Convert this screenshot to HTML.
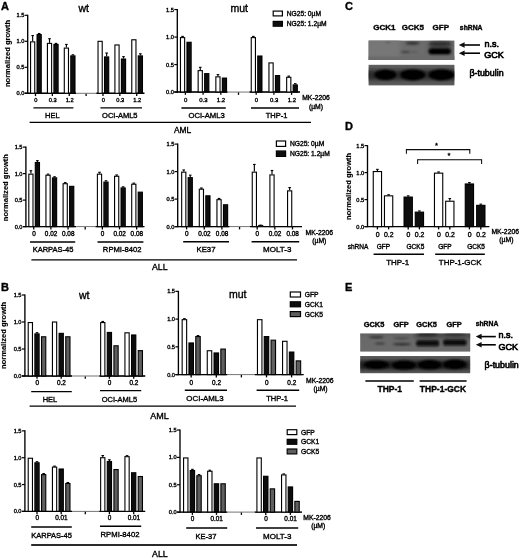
<!DOCTYPE html>
<html lang="en"><head><meta charset="utf-8"><title>Figure</title>
<style>html,body{margin:0;padding:0;background:#fff}svg{display:block}</style></head>
<body>
<svg width="520" height="558" viewBox="0 0 520 558" font-family='"Liberation Sans", sans-serif' shape-rendering="geometricPrecision">
<defs>
<filter id="soft" x="-5%" y="-5%" width="110%" height="110%"><feGaussianBlur stdDeviation="0.4"/></filter>
<filter id="b1" x="-30%" y="-60%" width="160%" height="220%"><feGaussianBlur stdDeviation="1.3"/></filter>
<filter id="b2" x="-30%" y="-60%" width="160%" height="220%"><feGaussianBlur stdDeviation="0.9"/></filter>
<filter id="b3" x="-30%" y="-60%" width="160%" height="220%"><feGaussianBlur stdDeviation="2.0"/></filter>
<clipPath id="cC1"><rect x="368.6" y="40.6" width="85.8" height="19.4"/></clipPath>
<clipPath id="cC2"><rect x="368.6" y="64.8" width="85.8" height="20.6"/></clipPath>
<clipPath id="cE1"><rect x="360.2" y="333.6" width="110" height="18.0"/></clipPath>
<clipPath id="cE2"><rect x="360.2" y="356.0" width="110" height="17.2"/></clipPath>
</defs>
<rect x="0" y="0" width="520" height="558" fill="#fff"/>
<g filter="url(#soft)">
<text x="1.00" y="9.70" font-size="11" text-anchor="start" font-weight="bold" fill="#050505" stroke="#050505" stroke-width="0.36">A</text>
<text x="1.00" y="291.10" font-size="11" text-anchor="start" font-weight="bold" fill="#050505" stroke="#050505" stroke-width="0.36">B</text>
<text x="345.00" y="9.80" font-size="11" text-anchor="start" font-weight="bold" fill="#050505" stroke="#050505" stroke-width="0.36">C</text>
<text x="345.00" y="130.20" font-size="11" text-anchor="start" font-weight="bold" fill="#050505" stroke="#050505" stroke-width="0.36">D</text>
<text x="345.00" y="290.80" font-size="11" text-anchor="start" font-weight="bold" fill="#050505" stroke="#050505" stroke-width="0.36">E</text>
<text x="83.70" y="12.40" font-size="10.5" text-anchor="middle" fill="#050505" stroke="#050505" stroke-width="0.36">wt</text>
<text x="9.60" y="53.50" font-size="7.55" text-anchor="middle" font-weight="bold" transform="rotate(-90 9.6 53.5)" fill="#050505" stroke="#050505" stroke-width="0.15">normalized growth</text>
<line x1="27.70" y1="14.80" x2="27.70" y2="93.90" stroke="#050505" stroke-width="1.35"/>
<line x1="24.70" y1="93.30" x2="27.70" y2="93.30" stroke="#050505" stroke-width="1.2"/>
<text x="24.30" y="95.30" font-size="5.65" text-anchor="end" fill="#050505" stroke="#050505" stroke-width="0.36">0.0</text>
<line x1="24.70" y1="67.30" x2="27.70" y2="67.30" stroke="#050505" stroke-width="1.2"/>
<text x="24.30" y="69.30" font-size="5.65" text-anchor="end" fill="#050505" stroke="#050505" stroke-width="0.36">0.5</text>
<line x1="24.70" y1="41.30" x2="27.70" y2="41.30" stroke="#050505" stroke-width="1.2"/>
<text x="24.30" y="43.30" font-size="5.65" text-anchor="end" fill="#050505" stroke="#050505" stroke-width="0.36">1.0</text>
<line x1="24.70" y1="15.30" x2="27.70" y2="15.30" stroke="#050505" stroke-width="1.2"/>
<text x="24.30" y="17.30" font-size="5.65" text-anchor="end" fill="#050505" stroke="#050505" stroke-width="0.36">1.5</text>
<line x1="24.70" y1="93.30" x2="76.00" y2="93.30" stroke="#050505" stroke-width="1.4"/>
<line x1="32.65" y1="41.30" x2="32.65" y2="35.58" stroke="#050505" stroke-width="1.15"/>
<line x1="31.35" y1="35.58" x2="33.95" y2="35.58" stroke="#050505" stroke-width="1.1"/>
<rect x="30.56" y="41.86" width="4.18" height="51.44" fill="#fff" stroke="#050505" stroke-width="1.12"/>
<line x1="39.15" y1="34.02" x2="39.15" y2="33.50" stroke="#050505" stroke-width="1.15"/>
<line x1="37.85" y1="33.50" x2="40.45" y2="33.50" stroke="#050505" stroke-width="1.1"/>
<rect x="37.06" y="34.58" width="4.18" height="58.72" fill="#0a0a0a" stroke="#050505" stroke-width="1.12"/>
<line x1="35.50" y1="93.70" x2="35.50" y2="96.10" stroke="#050505" stroke-width="1.3"/>
<text x="35.90" y="101.90" font-size="5.7" text-anchor="middle" fill="#050505" stroke="#050505" stroke-width="0.36">0</text>
<line x1="49.52" y1="42.86" x2="49.52" y2="38.70" stroke="#050505" stroke-width="1.15"/>
<line x1="48.22" y1="38.70" x2="50.82" y2="38.70" stroke="#050505" stroke-width="1.1"/>
<rect x="47.43" y="43.42" width="4.18" height="49.88" fill="#fff" stroke="#050505" stroke-width="1.12"/>
<line x1="56.02" y1="43.90" x2="56.02" y2="43.38" stroke="#050505" stroke-width="1.15"/>
<line x1="54.72" y1="43.38" x2="57.32" y2="43.38" stroke="#050505" stroke-width="1.1"/>
<rect x="53.93" y="44.46" width="4.18" height="48.84" fill="#0a0a0a" stroke="#050505" stroke-width="1.12"/>
<line x1="52.37" y1="93.70" x2="52.37" y2="96.10" stroke="#050505" stroke-width="1.3"/>
<text x="52.77" y="101.90" font-size="5.7" text-anchor="middle" fill="#050505" stroke="#050505" stroke-width="0.36">0.3</text>
<line x1="66.39" y1="47.54" x2="66.39" y2="44.42" stroke="#050505" stroke-width="1.15"/>
<line x1="65.09" y1="44.42" x2="67.69" y2="44.42" stroke="#050505" stroke-width="1.1"/>
<rect x="64.30" y="48.10" width="4.18" height="45.20" fill="#fff" stroke="#050505" stroke-width="1.12"/>
<line x1="72.89" y1="55.34" x2="72.89" y2="54.82" stroke="#050505" stroke-width="1.15"/>
<line x1="71.59" y1="54.82" x2="74.19" y2="54.82" stroke="#050505" stroke-width="1.1"/>
<rect x="70.80" y="55.90" width="4.18" height="37.40" fill="#0a0a0a" stroke="#050505" stroke-width="1.12"/>
<line x1="69.24" y1="93.70" x2="69.24" y2="96.10" stroke="#050505" stroke-width="1.3"/>
<text x="69.64" y="101.90" font-size="5.7" text-anchor="middle" fill="#050505" stroke="#050505" stroke-width="0.36">1.2</text>
<line x1="86.11" y1="93.70" x2="86.11" y2="96.10" stroke="#050505" stroke-width="1.3"/>
<line x1="96.40" y1="93.30" x2="144.40" y2="93.30" stroke="#050505" stroke-width="1.4"/>
<line x1="27.70" y1="93.30" x2="144.40" y2="93.30" stroke="#050505" stroke-width="0.55"/>
<rect x="98.04" y="41.34" width="4.18" height="51.96" fill="#fff" stroke="#050505" stroke-width="1.12"/>
<line x1="106.63" y1="56.38" x2="106.63" y2="53.00" stroke="#050505" stroke-width="1.15"/>
<line x1="105.33" y1="53.00" x2="107.93" y2="53.00" stroke="#050505" stroke-width="1.1"/>
<rect x="104.54" y="56.94" width="4.18" height="36.36" fill="#0a0a0a" stroke="#050505" stroke-width="1.12"/>
<line x1="102.98" y1="93.70" x2="102.98" y2="96.10" stroke="#050505" stroke-width="1.3"/>
<text x="103.38" y="101.90" font-size="5.7" text-anchor="middle" fill="#050505" stroke="#050505" stroke-width="0.36">0</text>
<rect x="114.91" y="44.98" width="4.18" height="48.32" fill="#fff" stroke="#050505" stroke-width="1.12"/>
<line x1="123.50" y1="58.46" x2="123.50" y2="56.64" stroke="#050505" stroke-width="1.15"/>
<line x1="122.20" y1="56.64" x2="124.80" y2="56.64" stroke="#050505" stroke-width="1.1"/>
<rect x="121.41" y="59.02" width="4.18" height="34.28" fill="#0a0a0a" stroke="#050505" stroke-width="1.12"/>
<line x1="119.85" y1="93.70" x2="119.85" y2="96.10" stroke="#050505" stroke-width="1.3"/>
<text x="120.25" y="101.90" font-size="5.7" text-anchor="middle" fill="#050505" stroke="#050505" stroke-width="0.36">0.3</text>
<rect x="131.78" y="39.78" width="4.18" height="53.52" fill="#fff" stroke="#050505" stroke-width="1.12"/>
<line x1="140.37" y1="55.34" x2="140.37" y2="53.78" stroke="#050505" stroke-width="1.15"/>
<line x1="139.07" y1="53.78" x2="141.67" y2="53.78" stroke="#050505" stroke-width="1.1"/>
<rect x="138.28" y="55.90" width="4.18" height="37.40" fill="#0a0a0a" stroke="#050505" stroke-width="1.12"/>
<line x1="136.72" y1="93.70" x2="136.72" y2="96.10" stroke="#050505" stroke-width="1.3"/>
<text x="137.12" y="101.90" font-size="5.7" text-anchor="middle" fill="#050505" stroke="#050505" stroke-width="0.36">1.2</text>
<line x1="33.40" y1="107.80" x2="73.40" y2="107.80" stroke="#050505" stroke-width="1.3"/>
<line x1="100.40" y1="107.80" x2="142.00" y2="107.80" stroke="#050505" stroke-width="1.3"/>
<text x="52.40" y="118.30" font-size="7.5" text-anchor="middle" fill="#050505" stroke="#050505" stroke-width="0.36">HEL</text>
<text x="119.80" y="118.30" font-size="7.5" text-anchor="middle" fill="#050505" stroke="#050505" stroke-width="0.36">OCI-AML5</text>
<text x="239.20" y="11.70" font-size="10.5" text-anchor="middle" fill="#050505" stroke="#050505" stroke-width="0.36">mut</text>
<line x1="177.30" y1="9.05" x2="177.30" y2="92.65" stroke="#050505" stroke-width="1.35"/>
<line x1="174.30" y1="92.05" x2="177.30" y2="92.05" stroke="#050505" stroke-width="1.2"/>
<text x="173.90" y="94.05" font-size="5.65" text-anchor="end" fill="#050505" stroke="#050505" stroke-width="0.36">0.0</text>
<line x1="174.30" y1="64.55" x2="177.30" y2="64.55" stroke="#050505" stroke-width="1.2"/>
<text x="173.90" y="66.55" font-size="5.65" text-anchor="end" fill="#050505" stroke="#050505" stroke-width="0.36">0.5</text>
<line x1="174.30" y1="37.05" x2="177.30" y2="37.05" stroke="#050505" stroke-width="1.2"/>
<text x="173.90" y="39.05" font-size="5.65" text-anchor="end" fill="#050505" stroke="#050505" stroke-width="0.36">1.0</text>
<line x1="174.30" y1="9.55" x2="177.30" y2="9.55" stroke="#050505" stroke-width="1.2"/>
<text x="173.90" y="11.55" font-size="5.65" text-anchor="end" fill="#050505" stroke="#050505" stroke-width="0.36">1.5</text>
<line x1="174.30" y1="92.05" x2="227.40" y2="92.05" stroke="#050505" stroke-width="1.4"/>
<line x1="182.55" y1="37.05" x2="182.55" y2="36.39" stroke="#050505" stroke-width="1.15"/>
<line x1="181.25" y1="36.39" x2="183.85" y2="36.39" stroke="#050505" stroke-width="1.1"/>
<rect x="180.46" y="37.61" width="4.18" height="54.44" fill="#fff" stroke="#050505" stroke-width="1.12"/>
<rect x="186.96" y="42.28" width="4.18" height="49.77" fill="#0a0a0a" stroke="#050505" stroke-width="1.12"/>
<line x1="185.40" y1="92.45" x2="185.40" y2="94.85" stroke="#050505" stroke-width="1.3"/>
<text x="185.60" y="101.90" font-size="6.0" text-anchor="middle" fill="#050505" stroke="#050505" stroke-width="0.36">0</text>
<line x1="200.25" y1="70.05" x2="200.25" y2="67.30" stroke="#050505" stroke-width="1.15"/>
<line x1="198.95" y1="67.30" x2="201.55" y2="67.30" stroke="#050505" stroke-width="1.1"/>
<rect x="198.16" y="70.61" width="4.18" height="21.44" fill="#fff" stroke="#050505" stroke-width="1.12"/>
<rect x="204.66" y="73.64" width="4.18" height="18.41" fill="#0a0a0a" stroke="#050505" stroke-width="1.12"/>
<line x1="203.10" y1="92.45" x2="203.10" y2="94.85" stroke="#050505" stroke-width="1.3"/>
<text x="203.30" y="101.90" font-size="6.0" text-anchor="middle" fill="#050505" stroke="#050505" stroke-width="0.36">0.3</text>
<line x1="217.95" y1="76.27" x2="217.95" y2="74.61" stroke="#050505" stroke-width="1.15"/>
<line x1="216.65" y1="74.61" x2="219.25" y2="74.61" stroke="#050505" stroke-width="1.1"/>
<rect x="215.86" y="76.83" width="4.18" height="15.22" fill="#fff" stroke="#050505" stroke-width="1.12"/>
<rect x="222.36" y="78.09" width="4.18" height="13.96" fill="#0a0a0a" stroke="#050505" stroke-width="1.12"/>
<line x1="220.80" y1="92.45" x2="220.80" y2="94.85" stroke="#050505" stroke-width="1.3"/>
<text x="221.00" y="101.90" font-size="6.0" text-anchor="middle" fill="#050505" stroke="#050505" stroke-width="0.36">1.2</text>
<line x1="238.50" y1="92.45" x2="238.50" y2="94.85" stroke="#050505" stroke-width="1.3"/>
<line x1="249.60" y1="92.05" x2="300.00" y2="92.05" stroke="#050505" stroke-width="1.4"/>
<line x1="177.30" y1="92.05" x2="300.00" y2="92.05" stroke="#050505" stroke-width="0.55"/>
<line x1="253.35" y1="37.05" x2="253.35" y2="36.39" stroke="#050505" stroke-width="1.15"/>
<line x1="252.05" y1="36.39" x2="254.65" y2="36.39" stroke="#050505" stroke-width="1.1"/>
<rect x="251.26" y="37.61" width="4.18" height="54.44" fill="#fff" stroke="#050505" stroke-width="1.12"/>
<rect x="257.76" y="56.03" width="4.18" height="36.02" fill="#0a0a0a" stroke="#050505" stroke-width="1.12"/>
<line x1="256.20" y1="92.45" x2="256.20" y2="94.85" stroke="#050505" stroke-width="1.3"/>
<text x="256.40" y="101.90" font-size="6.0" text-anchor="middle" fill="#050505" stroke="#050505" stroke-width="0.36">0</text>
<rect x="268.96" y="62.91" width="4.18" height="29.14" fill="#fff" stroke="#050505" stroke-width="1.12"/>
<rect x="275.46" y="75.56" width="4.18" height="16.49" fill="#0a0a0a" stroke="#050505" stroke-width="1.12"/>
<line x1="273.90" y1="92.45" x2="273.90" y2="94.85" stroke="#050505" stroke-width="1.3"/>
<text x="274.10" y="101.90" font-size="6.0" text-anchor="middle" fill="#050505" stroke="#050505" stroke-width="0.36">0.3</text>
<line x1="288.75" y1="76.76" x2="288.75" y2="76.10" stroke="#050505" stroke-width="1.15"/>
<line x1="287.45" y1="76.10" x2="290.05" y2="76.10" stroke="#050505" stroke-width="1.1"/>
<rect x="286.66" y="77.32" width="4.18" height="14.73" fill="#fff" stroke="#050505" stroke-width="1.12"/>
<line x1="295.25" y1="84.35" x2="295.25" y2="83.69" stroke="#050505" stroke-width="1.15"/>
<line x1="293.95" y1="83.69" x2="296.55" y2="83.69" stroke="#050505" stroke-width="1.1"/>
<rect x="293.16" y="84.91" width="4.18" height="7.14" fill="#0a0a0a" stroke="#050505" stroke-width="1.12"/>
<line x1="291.60" y1="92.45" x2="291.60" y2="94.85" stroke="#050505" stroke-width="1.3"/>
<text x="291.80" y="101.90" font-size="6.0" text-anchor="middle" fill="#050505" stroke="#050505" stroke-width="0.36">1.2</text>
<line x1="181.40" y1="108.00" x2="225.80" y2="108.00" stroke="#050505" stroke-width="1.45"/>
<line x1="251.00" y1="108.00" x2="299.00" y2="108.00" stroke="#050505" stroke-width="1.45"/>
<text x="206.60" y="118.30" font-size="7.7" text-anchor="middle" fill="#050505" stroke="#050505" stroke-width="0.36">OCI-AML3</text>
<text x="276.60" y="118.30" font-size="7.5" text-anchor="middle" fill="#050505" stroke="#050505" stroke-width="0.36">THP-1</text>
<text x="316.00" y="100.20" font-size="6.8" text-anchor="middle" fill="#050505" stroke="#050505" stroke-width="0.36">MK-2206</text>
<text x="316.00" y="108.80" font-size="6.8" text-anchor="middle" fill="#050505" stroke="#050505" stroke-width="0.36">(µM)</text>
<rect x="273.20" y="11.10" width="9.20" height="4.80" fill="#fff" stroke="#050505" stroke-width="1.2"/>
<text x="286.70" y="15.90" font-size="6.7" text-anchor="start" fill="#050505" stroke="#050505" stroke-width="0.36">NG25: 0µM</text>
<rect x="273.20" y="21.40" width="9.20" height="4.80" fill="#0a0a0a" stroke="#050505" stroke-width="1.2"/>
<text x="286.70" y="26.20" font-size="6.7" text-anchor="start" fill="#050505" stroke="#050505" stroke-width="0.36">NG25: 1.2µM</text>
<line x1="29.60" y1="122.30" x2="311.00" y2="122.30" stroke="#050505" stroke-width="1.35"/>
<text x="182.50" y="133.00" font-size="8.4" text-anchor="middle" fill="#050505" stroke="#050505" stroke-width="0.36">AML</text>
<text x="8.40" y="187.60" font-size="7.55" text-anchor="middle" font-weight="bold" transform="rotate(-90 8.4 187.6)" fill="#050505" stroke="#050505" stroke-width="0.15">normalized growth</text>
<line x1="25.90" y1="146.60" x2="25.90" y2="227.20" stroke="#050505" stroke-width="1.35"/>
<line x1="22.90" y1="226.60" x2="25.90" y2="226.60" stroke="#050505" stroke-width="1.2"/>
<text x="22.50" y="228.60" font-size="5.65" text-anchor="end" fill="#050505" stroke="#050505" stroke-width="0.36">0.0</text>
<line x1="22.90" y1="200.10" x2="25.90" y2="200.10" stroke="#050505" stroke-width="1.2"/>
<text x="22.50" y="202.10" font-size="5.65" text-anchor="end" fill="#050505" stroke="#050505" stroke-width="0.36">0.5</text>
<line x1="22.90" y1="173.60" x2="25.90" y2="173.60" stroke="#050505" stroke-width="1.2"/>
<text x="22.50" y="175.60" font-size="5.65" text-anchor="end" fill="#050505" stroke="#050505" stroke-width="0.36">1.0</text>
<line x1="22.90" y1="147.10" x2="25.90" y2="147.10" stroke="#050505" stroke-width="1.2"/>
<text x="22.50" y="149.10" font-size="5.65" text-anchor="end" fill="#050505" stroke="#050505" stroke-width="0.36">1.5</text>
<line x1="22.90" y1="226.60" x2="76.00" y2="226.60" stroke="#050505" stroke-width="1.4"/>
<line x1="30.90" y1="173.60" x2="30.90" y2="170.69" stroke="#050505" stroke-width="1.15"/>
<line x1="29.60" y1="170.69" x2="32.20" y2="170.69" stroke="#050505" stroke-width="1.1"/>
<rect x="28.81" y="174.16" width="4.18" height="52.44" fill="#fff" stroke="#050505" stroke-width="1.12"/>
<line x1="37.40" y1="161.94" x2="37.40" y2="160.62" stroke="#050505" stroke-width="1.15"/>
<line x1="36.10" y1="160.62" x2="38.70" y2="160.62" stroke="#050505" stroke-width="1.1"/>
<rect x="35.31" y="162.50" width="4.18" height="64.10" fill="#0a0a0a" stroke="#050505" stroke-width="1.12"/>
<line x1="33.75" y1="227.00" x2="33.75" y2="229.40" stroke="#050505" stroke-width="1.3"/>
<text x="33.95" y="236.20" font-size="6.4" text-anchor="middle" fill="#050505" stroke="#050505" stroke-width="0.36">0</text>
<line x1="48.05" y1="174.66" x2="48.05" y2="174.13" stroke="#050505" stroke-width="1.15"/>
<line x1="46.75" y1="174.13" x2="49.35" y2="174.13" stroke="#050505" stroke-width="1.1"/>
<rect x="45.96" y="175.22" width="4.18" height="51.38" fill="#fff" stroke="#050505" stroke-width="1.12"/>
<line x1="54.55" y1="177.31" x2="54.55" y2="176.78" stroke="#050505" stroke-width="1.15"/>
<line x1="53.25" y1="176.78" x2="55.85" y2="176.78" stroke="#050505" stroke-width="1.1"/>
<rect x="52.46" y="177.87" width="4.18" height="48.73" fill="#0a0a0a" stroke="#050505" stroke-width="1.12"/>
<line x1="50.90" y1="227.00" x2="50.90" y2="229.40" stroke="#050505" stroke-width="1.3"/>
<text x="51.10" y="236.20" font-size="6.4" text-anchor="middle" fill="#050505" stroke="#050505" stroke-width="0.36">0.02</text>
<line x1="65.20" y1="183.14" x2="65.20" y2="182.61" stroke="#050505" stroke-width="1.15"/>
<line x1="63.90" y1="182.61" x2="66.50" y2="182.61" stroke="#050505" stroke-width="1.1"/>
<rect x="63.11" y="183.70" width="4.18" height="42.90" fill="#fff" stroke="#050505" stroke-width="1.12"/>
<rect x="69.61" y="186.35" width="4.18" height="40.25" fill="#0a0a0a" stroke="#050505" stroke-width="1.12"/>
<line x1="68.05" y1="227.00" x2="68.05" y2="229.40" stroke="#050505" stroke-width="1.3"/>
<text x="68.25" y="236.20" font-size="6.4" text-anchor="middle" fill="#050505" stroke="#050505" stroke-width="0.36">0.08</text>
<line x1="85.20" y1="227.00" x2="85.20" y2="229.40" stroke="#050505" stroke-width="1.3"/>
<line x1="95.60" y1="226.60" x2="144.40" y2="226.60" stroke="#050505" stroke-width="1.4"/>
<line x1="25.90" y1="226.60" x2="144.40" y2="226.60" stroke="#050505" stroke-width="0.55"/>
<line x1="99.50" y1="173.60" x2="99.50" y2="172.28" stroke="#050505" stroke-width="1.15"/>
<line x1="98.20" y1="172.28" x2="100.80" y2="172.28" stroke="#050505" stroke-width="1.1"/>
<rect x="97.41" y="174.16" width="4.18" height="52.44" fill="#fff" stroke="#050505" stroke-width="1.12"/>
<line x1="106.00" y1="181.55" x2="106.00" y2="180.75" stroke="#050505" stroke-width="1.15"/>
<line x1="104.70" y1="180.75" x2="107.30" y2="180.75" stroke="#050505" stroke-width="1.1"/>
<rect x="103.91" y="182.11" width="4.18" height="44.49" fill="#0a0a0a" stroke="#050505" stroke-width="1.12"/>
<line x1="102.35" y1="227.00" x2="102.35" y2="229.40" stroke="#050505" stroke-width="1.3"/>
<text x="102.55" y="236.20" font-size="6.4" text-anchor="middle" fill="#050505" stroke="#050505" stroke-width="0.36">0</text>
<line x1="116.65" y1="175.72" x2="116.65" y2="174.93" stroke="#050505" stroke-width="1.15"/>
<line x1="115.35" y1="174.93" x2="117.95" y2="174.93" stroke="#050505" stroke-width="1.1"/>
<rect x="114.56" y="176.28" width="4.18" height="50.32" fill="#fff" stroke="#050505" stroke-width="1.12"/>
<line x1="123.15" y1="187.38" x2="123.15" y2="186.85" stroke="#050505" stroke-width="1.15"/>
<line x1="121.85" y1="186.85" x2="124.45" y2="186.85" stroke="#050505" stroke-width="1.1"/>
<rect x="121.06" y="187.94" width="4.18" height="38.66" fill="#0a0a0a" stroke="#050505" stroke-width="1.12"/>
<line x1="119.50" y1="227.00" x2="119.50" y2="229.40" stroke="#050505" stroke-width="1.3"/>
<text x="119.70" y="236.20" font-size="6.4" text-anchor="middle" fill="#050505" stroke="#050505" stroke-width="0.36">0.02</text>
<line x1="133.80" y1="183.67" x2="133.80" y2="183.14" stroke="#050505" stroke-width="1.15"/>
<line x1="132.50" y1="183.14" x2="135.10" y2="183.14" stroke="#050505" stroke-width="1.1"/>
<rect x="131.71" y="184.23" width="4.18" height="42.37" fill="#fff" stroke="#050505" stroke-width="1.12"/>
<rect x="138.21" y="192.18" width="4.18" height="34.42" fill="#0a0a0a" stroke="#050505" stroke-width="1.12"/>
<line x1="136.65" y1="227.00" x2="136.65" y2="229.40" stroke="#050505" stroke-width="1.3"/>
<text x="136.85" y="236.20" font-size="6.4" text-anchor="middle" fill="#050505" stroke="#050505" stroke-width="0.36">0.08</text>
<line x1="30.00" y1="241.90" x2="75.20" y2="241.90" stroke="#050505" stroke-width="1.45"/>
<line x1="97.50" y1="241.90" x2="143.40" y2="241.90" stroke="#050505" stroke-width="1.45"/>
<text x="53.00" y="252.30" font-size="7.5" text-anchor="middle" fill="#050505" stroke="#050505" stroke-width="0.36">KARPAS-45</text>
<text x="122.20" y="252.30" font-size="7.65" text-anchor="middle" fill="#050505" stroke="#050505" stroke-width="0.36">RPMI-8402</text>
<line x1="177.70" y1="143.60" x2="177.70" y2="227.20" stroke="#050505" stroke-width="1.35"/>
<line x1="174.70" y1="226.60" x2="177.70" y2="226.60" stroke="#050505" stroke-width="1.2"/>
<text x="174.30" y="228.60" font-size="5.65" text-anchor="end" fill="#050505" stroke="#050505" stroke-width="0.36">0.0</text>
<line x1="174.70" y1="199.10" x2="177.70" y2="199.10" stroke="#050505" stroke-width="1.2"/>
<text x="174.30" y="201.10" font-size="5.65" text-anchor="end" fill="#050505" stroke="#050505" stroke-width="0.36">0.5</text>
<line x1="174.70" y1="171.60" x2="177.70" y2="171.60" stroke="#050505" stroke-width="1.2"/>
<text x="174.30" y="173.60" font-size="5.65" text-anchor="end" fill="#050505" stroke="#050505" stroke-width="0.36">1.0</text>
<line x1="174.70" y1="144.10" x2="177.70" y2="144.10" stroke="#050505" stroke-width="1.2"/>
<text x="174.30" y="146.10" font-size="5.65" text-anchor="end" fill="#050505" stroke="#050505" stroke-width="0.36">1.5</text>
<line x1="174.70" y1="226.60" x2="229.40" y2="226.60" stroke="#050505" stroke-width="1.4"/>
<line x1="183.75" y1="171.60" x2="183.75" y2="169.95" stroke="#050505" stroke-width="1.15"/>
<line x1="182.45" y1="169.95" x2="185.05" y2="169.95" stroke="#050505" stroke-width="1.1"/>
<rect x="181.66" y="172.16" width="4.18" height="54.44" fill="#fff" stroke="#050505" stroke-width="1.12"/>
<line x1="190.25" y1="177.10" x2="190.25" y2="175.17" stroke="#050505" stroke-width="1.15"/>
<line x1="188.95" y1="175.17" x2="191.55" y2="175.17" stroke="#050505" stroke-width="1.1"/>
<rect x="188.16" y="177.66" width="4.18" height="48.94" fill="#0a0a0a" stroke="#050505" stroke-width="1.12"/>
<line x1="186.60" y1="227.00" x2="186.60" y2="229.40" stroke="#050505" stroke-width="1.3"/>
<text x="186.80" y="236.20" font-size="6.4" text-anchor="middle" fill="#050505" stroke="#050505" stroke-width="0.36">0</text>
<line x1="201.40" y1="188.65" x2="201.40" y2="187.99" stroke="#050505" stroke-width="1.15"/>
<line x1="200.10" y1="187.99" x2="202.70" y2="187.99" stroke="#050505" stroke-width="1.1"/>
<rect x="199.31" y="189.21" width="4.18" height="37.39" fill="#fff" stroke="#050505" stroke-width="1.12"/>
<rect x="205.81" y="195.81" width="4.18" height="30.79" fill="#0a0a0a" stroke="#050505" stroke-width="1.12"/>
<line x1="204.25" y1="227.00" x2="204.25" y2="229.40" stroke="#050505" stroke-width="1.3"/>
<text x="204.45" y="236.20" font-size="6.4" text-anchor="middle" fill="#050505" stroke="#050505" stroke-width="0.36">0.02</text>
<line x1="219.05" y1="199.10" x2="219.05" y2="198.44" stroke="#050505" stroke-width="1.15"/>
<line x1="217.75" y1="198.44" x2="220.35" y2="198.44" stroke="#050505" stroke-width="1.1"/>
<rect x="216.96" y="199.66" width="4.18" height="26.94" fill="#fff" stroke="#050505" stroke-width="1.12"/>
<rect x="223.46" y="204.78" width="4.18" height="21.82" fill="#0a0a0a" stroke="#050505" stroke-width="1.12"/>
<line x1="221.90" y1="227.00" x2="221.90" y2="229.40" stroke="#050505" stroke-width="1.3"/>
<text x="222.10" y="236.20" font-size="6.4" text-anchor="middle" fill="#050505" stroke="#050505" stroke-width="0.36">0.08</text>
<line x1="239.55" y1="227.00" x2="239.55" y2="229.40" stroke="#050505" stroke-width="1.3"/>
<line x1="250.00" y1="226.60" x2="302.00" y2="226.60" stroke="#050505" stroke-width="1.4"/>
<line x1="177.70" y1="226.60" x2="302.00" y2="226.60" stroke="#050505" stroke-width="0.55"/>
<line x1="254.35" y1="171.60" x2="254.35" y2="164.45" stroke="#050505" stroke-width="1.15"/>
<line x1="253.05" y1="164.45" x2="255.65" y2="164.45" stroke="#050505" stroke-width="1.1"/>
<rect x="252.26" y="172.16" width="4.18" height="54.44" fill="#fff" stroke="#050505" stroke-width="1.12"/>
<rect x="258.76" y="227.16" width="4.18" height="-0.56" fill="#0a0a0a" stroke="#050505" stroke-width="1.12"/>
<line x1="257.20" y1="227.00" x2="257.20" y2="229.40" stroke="#050505" stroke-width="1.3"/>
<text x="257.40" y="236.20" font-size="6.4" text-anchor="middle" fill="#050505" stroke="#050505" stroke-width="0.36">0</text>
<line x1="272.00" y1="174.35" x2="272.00" y2="170.50" stroke="#050505" stroke-width="1.15"/>
<line x1="270.70" y1="170.50" x2="273.30" y2="170.50" stroke="#050505" stroke-width="1.1"/>
<rect x="269.91" y="174.91" width="4.18" height="51.69" fill="#fff" stroke="#050505" stroke-width="1.12"/>
<rect x="276.41" y="227.16" width="4.18" height="-0.56" fill="#0a0a0a" stroke="#050505" stroke-width="1.12"/>
<line x1="274.85" y1="227.00" x2="274.85" y2="229.40" stroke="#050505" stroke-width="1.3"/>
<text x="275.05" y="236.20" font-size="6.4" text-anchor="middle" fill="#050505" stroke="#050505" stroke-width="0.36">0.02</text>
<line x1="289.65" y1="190.30" x2="289.65" y2="187.55" stroke="#050505" stroke-width="1.15"/>
<line x1="288.35" y1="187.55" x2="290.95" y2="187.55" stroke="#050505" stroke-width="1.1"/>
<rect x="287.56" y="190.86" width="4.18" height="35.74" fill="#fff" stroke="#050505" stroke-width="1.12"/>
<rect x="294.06" y="227.16" width="4.18" height="-0.56" fill="#0a0a0a" stroke="#050505" stroke-width="1.12"/>
<line x1="292.50" y1="227.00" x2="292.50" y2="229.40" stroke="#050505" stroke-width="1.3"/>
<text x="292.70" y="236.20" font-size="6.4" text-anchor="middle" fill="#050505" stroke="#050505" stroke-width="0.36">0.08</text>
<path d="M257.60 226.60 a3.0 2.2 0 0 1 6.0 0 Z" fill="#0a0a0a"/>
<line x1="183.20" y1="241.70" x2="229.00" y2="241.70" stroke="#050505" stroke-width="1.45"/>
<line x1="251.60" y1="241.70" x2="299.20" y2="241.70" stroke="#050505" stroke-width="1.45"/>
<text x="206.00" y="252.30" font-size="7.8" text-anchor="middle" fill="#050505" stroke="#050505" stroke-width="0.36">KE37</text>
<text x="277.20" y="252.30" font-size="8.0" text-anchor="middle" fill="#050505" stroke="#050505" stroke-width="0.36">MOLT-3</text>
<text x="319.30" y="234.80" font-size="6.8" text-anchor="middle" fill="#050505" stroke="#050505" stroke-width="0.36">MK-2206</text>
<text x="319.30" y="243.40" font-size="6.8" text-anchor="middle" fill="#050505" stroke="#050505" stroke-width="0.36">(µM)</text>
<rect x="276.40" y="141.00" width="9.20" height="5.40" fill="#fff" stroke="#050505" stroke-width="1.2"/>
<text x="289.90" y="146.10" font-size="6.7" text-anchor="start" fill="#050505" stroke="#050505" stroke-width="0.36">NG25: 0µM</text>
<rect x="276.40" y="151.00" width="9.20" height="5.40" fill="#0a0a0a" stroke="#050505" stroke-width="1.2"/>
<text x="289.90" y="156.10" font-size="6.7" text-anchor="start" fill="#050505" stroke="#050505" stroke-width="0.36">NG25: 1.2µM</text>
<line x1="31.40" y1="259.80" x2="297.00" y2="259.80" stroke="#050505" stroke-width="1.35"/>
<text x="159.80" y="270.30" font-size="8.7" text-anchor="middle" fill="#050505" stroke="#050505" stroke-width="0.36">ALL</text>
<text x="84.20" y="299.40" font-size="10.5" text-anchor="middle" fill="#050505" stroke="#050505" stroke-width="0.36">wt</text>
<text x="6.50" y="335.40" font-size="7.55" text-anchor="middle" font-weight="bold" transform="rotate(-90 6.5 335.4)" fill="#050505" stroke="#050505" stroke-width="0.15">normalized growth</text>
<line x1="24.90" y1="294.50" x2="24.90" y2="376.60" stroke="#050505" stroke-width="1.35"/>
<line x1="21.90" y1="376.00" x2="24.90" y2="376.00" stroke="#050505" stroke-width="1.2"/>
<text x="21.50" y="378.00" font-size="5.65" text-anchor="end" fill="#050505" stroke="#050505" stroke-width="0.36">0.0</text>
<line x1="21.90" y1="349.00" x2="24.90" y2="349.00" stroke="#050505" stroke-width="1.2"/>
<text x="21.50" y="351.00" font-size="5.65" text-anchor="end" fill="#050505" stroke="#050505" stroke-width="0.36">0.5</text>
<line x1="21.90" y1="322.00" x2="24.90" y2="322.00" stroke="#050505" stroke-width="1.2"/>
<text x="21.50" y="324.00" font-size="5.65" text-anchor="end" fill="#050505" stroke="#050505" stroke-width="0.36">1.0</text>
<line x1="21.90" y1="295.00" x2="24.90" y2="295.00" stroke="#050505" stroke-width="1.2"/>
<text x="21.50" y="297.00" font-size="5.65" text-anchor="end" fill="#050505" stroke="#050505" stroke-width="0.36">1.5</text>
<line x1="21.90" y1="376.00" x2="72.00" y2="376.00" stroke="#050505" stroke-width="1.4"/>
<rect x="28.23" y="322.56" width="4.23" height="53.44" fill="#fff" stroke="#050505" stroke-width="1.12"/>
<line x1="37.00" y1="333.34" x2="37.00" y2="332.69" stroke="#050505" stroke-width="1.15"/>
<line x1="35.70" y1="332.69" x2="38.30" y2="332.69" stroke="#050505" stroke-width="1.1"/>
<rect x="34.89" y="333.90" width="4.23" height="42.10" fill="#0a0a0a" stroke="#050505" stroke-width="1.12"/>
<rect x="41.54" y="336.76" width="4.23" height="39.24" fill="#5e5e5e" stroke="#050505" stroke-width="1.12"/>
<line x1="37.00" y1="376.40" x2="37.00" y2="378.80" stroke="#050505" stroke-width="1.3"/>
<text x="37.20" y="385.00" font-size="6.4" text-anchor="middle" fill="#050505" stroke="#050505" stroke-width="0.36">0</text>
<rect x="52.44" y="322.02" width="4.23" height="53.98" fill="#fff" stroke="#050505" stroke-width="1.12"/>
<rect x="59.09" y="333.36" width="4.23" height="42.64" fill="#0a0a0a" stroke="#050505" stroke-width="1.12"/>
<rect x="65.74" y="336.76" width="4.23" height="39.24" fill="#5e5e5e" stroke="#050505" stroke-width="1.12"/>
<line x1="61.20" y1="376.40" x2="61.20" y2="378.80" stroke="#050505" stroke-width="1.3"/>
<text x="61.40" y="385.00" font-size="6.4" text-anchor="middle" fill="#050505" stroke="#050505" stroke-width="0.36">0.2</text>
<line x1="85.30" y1="376.40" x2="85.30" y2="378.80" stroke="#050505" stroke-width="1.3"/>
<line x1="99.40" y1="376.00" x2="145.20" y2="376.00" stroke="#050505" stroke-width="1.4"/>
<line x1="24.90" y1="376.00" x2="145.20" y2="376.00" stroke="#050505" stroke-width="0.55"/>
<line x1="102.75" y1="322.00" x2="102.75" y2="321.46" stroke="#050505" stroke-width="1.15"/>
<line x1="101.45" y1="321.46" x2="104.05" y2="321.46" stroke="#050505" stroke-width="1.1"/>
<rect x="100.64" y="322.56" width="4.23" height="53.44" fill="#fff" stroke="#050505" stroke-width="1.12"/>
<rect x="107.29" y="332.44" width="4.23" height="43.56" fill="#0a0a0a" stroke="#050505" stroke-width="1.12"/>
<rect x="113.94" y="345.78" width="4.23" height="30.22" fill="#5e5e5e" stroke="#050505" stroke-width="1.12"/>
<line x1="109.40" y1="376.40" x2="109.40" y2="378.80" stroke="#050505" stroke-width="1.3"/>
<text x="109.60" y="385.00" font-size="6.4" text-anchor="middle" fill="#050505" stroke="#050505" stroke-width="0.36">0</text>
<rect x="124.93" y="332.82" width="4.23" height="43.18" fill="#fff" stroke="#050505" stroke-width="1.12"/>
<rect x="131.58" y="334.98" width="4.23" height="41.02" fill="#0a0a0a" stroke="#050505" stroke-width="1.12"/>
<rect x="138.23" y="350.64" width="4.23" height="25.36" fill="#5e5e5e" stroke="#050505" stroke-width="1.12"/>
<line x1="133.70" y1="376.40" x2="133.70" y2="378.80" stroke="#050505" stroke-width="1.3"/>
<text x="133.90" y="385.00" font-size="6.4" text-anchor="middle" fill="#050505" stroke="#050505" stroke-width="0.36">0.2</text>
<line x1="31.20" y1="391.60" x2="71.80" y2="391.60" stroke="#050505" stroke-width="1.45"/>
<line x1="100.00" y1="390.60" x2="141.20" y2="390.60" stroke="#050505" stroke-width="1.45"/>
<text x="50.00" y="402.20" font-size="7.5" text-anchor="middle" fill="#050505" stroke="#050505" stroke-width="0.36">HEL</text>
<text x="119.40" y="401.50" font-size="7.5" text-anchor="middle" fill="#050505" stroke="#050505" stroke-width="0.36">OCI-AML5</text>
<text x="237.70" y="298.00" font-size="10.5" text-anchor="middle" fill="#050505" stroke="#050505" stroke-width="0.36">mut</text>
<line x1="178.40" y1="290.85" x2="178.40" y2="375.20" stroke="#050505" stroke-width="1.35"/>
<line x1="175.40" y1="374.60" x2="178.40" y2="374.60" stroke="#050505" stroke-width="1.2"/>
<text x="175.00" y="376.60" font-size="5.65" text-anchor="end" fill="#050505" stroke="#050505" stroke-width="0.36">0.0</text>
<line x1="175.40" y1="346.85" x2="178.40" y2="346.85" stroke="#050505" stroke-width="1.2"/>
<text x="175.00" y="348.85" font-size="5.65" text-anchor="end" fill="#050505" stroke="#050505" stroke-width="0.36">0.5</text>
<line x1="175.40" y1="319.10" x2="178.40" y2="319.10" stroke="#050505" stroke-width="1.2"/>
<text x="175.00" y="321.10" font-size="5.65" text-anchor="end" fill="#050505" stroke="#050505" stroke-width="0.36">1.0</text>
<line x1="175.40" y1="291.35" x2="178.40" y2="291.35" stroke="#050505" stroke-width="1.2"/>
<text x="175.00" y="293.35" font-size="5.65" text-anchor="end" fill="#050505" stroke="#050505" stroke-width="0.36">1.5</text>
<line x1="175.40" y1="374.60" x2="227.20" y2="374.60" stroke="#050505" stroke-width="1.4"/>
<line x1="184.40" y1="319.10" x2="184.40" y2="318.66" stroke="#050505" stroke-width="1.15"/>
<line x1="183.10" y1="318.66" x2="185.70" y2="318.66" stroke="#050505" stroke-width="1.1"/>
<rect x="182.16" y="319.66" width="4.48" height="54.94" fill="#fff" stroke="#050505" stroke-width="1.12"/>
<rect x="188.96" y="342.97" width="4.48" height="31.63" fill="#0a0a0a" stroke="#050505" stroke-width="1.12"/>
<line x1="198.00" y1="336.03" x2="198.00" y2="335.58" stroke="#050505" stroke-width="1.15"/>
<line x1="196.70" y1="335.58" x2="199.30" y2="335.58" stroke="#050505" stroke-width="1.1"/>
<rect x="195.76" y="336.59" width="4.48" height="38.01" fill="#5e5e5e" stroke="#050505" stroke-width="1.12"/>
<line x1="191.20" y1="375.00" x2="191.20" y2="377.40" stroke="#050505" stroke-width="1.3"/>
<text x="191.40" y="385.00" font-size="6.4" text-anchor="middle" fill="#050505" stroke="#050505" stroke-width="0.36">0</text>
<rect x="207.26" y="350.74" width="4.48" height="23.86" fill="#fff" stroke="#050505" stroke-width="1.12"/>
<rect x="214.06" y="352.96" width="4.48" height="21.64" fill="#0a0a0a" stroke="#050505" stroke-width="1.12"/>
<rect x="220.86" y="349.08" width="4.48" height="25.52" fill="#5e5e5e" stroke="#050505" stroke-width="1.12"/>
<line x1="216.30" y1="375.00" x2="216.30" y2="377.40" stroke="#050505" stroke-width="1.3"/>
<text x="216.50" y="385.00" font-size="6.4" text-anchor="middle" fill="#050505" stroke="#050505" stroke-width="0.36">0.2</text>
<line x1="241.40" y1="375.00" x2="241.40" y2="377.40" stroke="#050505" stroke-width="1.3"/>
<line x1="254.80" y1="374.60" x2="303.60" y2="374.60" stroke="#050505" stroke-width="1.4"/>
<line x1="178.40" y1="374.60" x2="303.60" y2="374.60" stroke="#050505" stroke-width="0.55"/>
<rect x="257.46" y="319.66" width="4.48" height="54.94" fill="#fff" stroke="#050505" stroke-width="1.12"/>
<rect x="264.26" y="336.59" width="4.48" height="38.01" fill="#0a0a0a" stroke="#050505" stroke-width="1.12"/>
<rect x="271.06" y="340.19" width="4.48" height="34.41" fill="#5e5e5e" stroke="#050505" stroke-width="1.12"/>
<line x1="266.50" y1="375.00" x2="266.50" y2="377.40" stroke="#050505" stroke-width="1.3"/>
<text x="266.70" y="385.00" font-size="6.4" text-anchor="middle" fill="#050505" stroke="#050505" stroke-width="0.36">0</text>
<rect x="282.56" y="341.31" width="4.48" height="33.30" fill="#fff" stroke="#050505" stroke-width="1.12"/>
<rect x="289.36" y="352.07" width="4.48" height="22.53" fill="#0a0a0a" stroke="#050505" stroke-width="1.12"/>
<rect x="296.16" y="360.90" width="4.48" height="13.70" fill="#5e5e5e" stroke="#050505" stroke-width="1.12"/>
<line x1="291.60" y1="375.00" x2="291.60" y2="377.40" stroke="#050505" stroke-width="1.3"/>
<text x="291.80" y="385.00" font-size="6.4" text-anchor="middle" fill="#050505" stroke="#050505" stroke-width="0.36">0.2</text>
<line x1="184.80" y1="390.20" x2="227.00" y2="390.20" stroke="#050505" stroke-width="1.45"/>
<line x1="256.60" y1="390.20" x2="299.20" y2="390.20" stroke="#050505" stroke-width="1.45"/>
<text x="205.00" y="401.20" font-size="7.9" text-anchor="middle" fill="#050505" stroke="#050505" stroke-width="0.36">OCI-AML3</text>
<text x="277.00" y="401.40" font-size="7.5" text-anchor="middle" fill="#050505" stroke="#050505" stroke-width="0.36">THP-1</text>
<text x="319.80" y="382.50" font-size="6.8" text-anchor="middle" fill="#050505" stroke="#050505" stroke-width="0.36">MK-2206</text>
<text x="320.60" y="391.10" font-size="6.8" text-anchor="middle" fill="#050505" stroke="#050505" stroke-width="0.36">(µM)</text>
<rect x="290.30" y="292.00" width="10.20" height="5.00" fill="#fff" stroke="#050505" stroke-width="1.2"/>
<text x="304.80" y="296.90" font-size="6.7" text-anchor="start" fill="#050505" stroke="#050505" stroke-width="0.36">GFP</text>
<rect x="290.30" y="301.80" width="10.20" height="5.00" fill="#0a0a0a" stroke="#050505" stroke-width="1.2"/>
<text x="304.80" y="306.70" font-size="6.7" text-anchor="start" fill="#050505" stroke="#050505" stroke-width="0.36">GCK1</text>
<rect x="290.30" y="311.60" width="10.20" height="5.00" fill="#5e5e5e" stroke="#050505" stroke-width="1.2"/>
<text x="304.80" y="316.50" font-size="6.7" text-anchor="start" fill="#050505" stroke="#050505" stroke-width="0.36">GCK5</text>
<line x1="29.60" y1="406.20" x2="296.00" y2="406.20" stroke="#050505" stroke-width="1.3"/>
<text x="159.40" y="419.00" font-size="9.0" text-anchor="middle" fill="#050505" stroke="#050505" stroke-width="0.36">AML</text>
<line x1="24.90" y1="430.35" x2="24.90" y2="512.00" stroke="#050505" stroke-width="1.35"/>
<line x1="21.90" y1="511.40" x2="24.90" y2="511.40" stroke="#050505" stroke-width="1.2"/>
<text x="21.50" y="513.40" font-size="5.65" text-anchor="end" fill="#050505" stroke="#050505" stroke-width="0.36">0.0</text>
<line x1="21.90" y1="484.55" x2="24.90" y2="484.55" stroke="#050505" stroke-width="1.2"/>
<text x="21.50" y="486.55" font-size="5.65" text-anchor="end" fill="#050505" stroke="#050505" stroke-width="0.36">0.5</text>
<line x1="21.90" y1="457.70" x2="24.90" y2="457.70" stroke="#050505" stroke-width="1.2"/>
<text x="21.50" y="459.70" font-size="5.65" text-anchor="end" fill="#050505" stroke="#050505" stroke-width="0.36">1.0</text>
<line x1="21.90" y1="430.85" x2="24.90" y2="430.85" stroke="#050505" stroke-width="1.2"/>
<text x="21.50" y="432.85" font-size="5.65" text-anchor="end" fill="#050505" stroke="#050505" stroke-width="0.36">1.5</text>
<line x1="21.90" y1="511.40" x2="72.00" y2="511.40" stroke="#050505" stroke-width="1.4"/>
<rect x="28.23" y="458.26" width="4.23" height="53.14" fill="#fff" stroke="#050505" stroke-width="1.12"/>
<line x1="37.00" y1="462.26" x2="37.00" y2="461.73" stroke="#050505" stroke-width="1.15"/>
<line x1="35.70" y1="461.73" x2="38.30" y2="461.73" stroke="#050505" stroke-width="1.1"/>
<rect x="34.89" y="462.82" width="4.23" height="48.58" fill="#0a0a0a" stroke="#050505" stroke-width="1.12"/>
<line x1="43.65" y1="474.08" x2="43.65" y2="473.54" stroke="#050505" stroke-width="1.15"/>
<line x1="42.35" y1="473.54" x2="44.95" y2="473.54" stroke="#050505" stroke-width="1.1"/>
<rect x="41.54" y="474.64" width="4.23" height="36.76" fill="#5e5e5e" stroke="#050505" stroke-width="1.12"/>
<line x1="37.00" y1="511.80" x2="37.00" y2="514.20" stroke="#050505" stroke-width="1.3"/>
<text x="37.20" y="520.40" font-size="6.4" text-anchor="middle" fill="#050505" stroke="#050505" stroke-width="0.36">0</text>
<line x1="54.55" y1="466.56" x2="54.55" y2="466.13" stroke="#050505" stroke-width="1.15"/>
<line x1="53.25" y1="466.13" x2="55.85" y2="466.13" stroke="#050505" stroke-width="1.1"/>
<rect x="52.44" y="467.12" width="4.23" height="44.28" fill="#fff" stroke="#050505" stroke-width="1.12"/>
<rect x="59.09" y="469.00" width="4.23" height="42.40" fill="#0a0a0a" stroke="#050505" stroke-width="1.12"/>
<line x1="67.85" y1="482.94" x2="67.85" y2="482.51" stroke="#050505" stroke-width="1.15"/>
<line x1="66.55" y1="482.51" x2="69.15" y2="482.51" stroke="#050505" stroke-width="1.1"/>
<rect x="65.74" y="483.50" width="4.23" height="27.90" fill="#5e5e5e" stroke="#050505" stroke-width="1.12"/>
<line x1="61.20" y1="511.80" x2="61.20" y2="514.20" stroke="#050505" stroke-width="1.3"/>
<text x="61.40" y="520.40" font-size="6.4" text-anchor="middle" fill="#050505" stroke="#050505" stroke-width="0.36">0.01</text>
<line x1="85.30" y1="511.80" x2="85.30" y2="514.20" stroke="#050505" stroke-width="1.3"/>
<line x1="99.40" y1="511.40" x2="145.20" y2="511.40" stroke="#050505" stroke-width="1.4"/>
<line x1="24.90" y1="511.40" x2="145.20" y2="511.40" stroke="#050505" stroke-width="0.55"/>
<line x1="102.75" y1="457.16" x2="102.75" y2="455.55" stroke="#050505" stroke-width="1.15"/>
<line x1="101.45" y1="455.55" x2="104.05" y2="455.55" stroke="#050505" stroke-width="1.1"/>
<rect x="100.64" y="457.72" width="4.23" height="53.68" fill="#fff" stroke="#050505" stroke-width="1.12"/>
<line x1="109.40" y1="460.92" x2="109.40" y2="459.74" stroke="#050505" stroke-width="1.15"/>
<line x1="108.10" y1="459.74" x2="110.70" y2="459.74" stroke="#050505" stroke-width="1.1"/>
<rect x="107.29" y="461.48" width="4.23" height="49.92" fill="#0a0a0a" stroke="#050505" stroke-width="1.12"/>
<rect x="113.94" y="469.54" width="4.23" height="41.86" fill="#5e5e5e" stroke="#050505" stroke-width="1.12"/>
<line x1="109.40" y1="511.80" x2="109.40" y2="514.20" stroke="#050505" stroke-width="1.3"/>
<text x="109.60" y="520.40" font-size="6.4" text-anchor="middle" fill="#050505" stroke="#050505" stroke-width="0.36">0</text>
<line x1="127.05" y1="456.09" x2="127.05" y2="455.66" stroke="#050505" stroke-width="1.15"/>
<line x1="125.75" y1="455.66" x2="128.35" y2="455.66" stroke="#050505" stroke-width="1.1"/>
<rect x="124.93" y="456.65" width="4.23" height="54.75" fill="#fff" stroke="#050505" stroke-width="1.12"/>
<rect x="131.58" y="472.76" width="4.23" height="38.64" fill="#0a0a0a" stroke="#050505" stroke-width="1.12"/>
<rect x="138.23" y="476.52" width="4.23" height="34.88" fill="#5e5e5e" stroke="#050505" stroke-width="1.12"/>
<line x1="133.70" y1="511.80" x2="133.70" y2="514.20" stroke="#050505" stroke-width="1.3"/>
<text x="133.90" y="520.40" font-size="6.4" text-anchor="middle" fill="#050505" stroke="#050505" stroke-width="0.36">0.01</text>
<line x1="31.20" y1="527.00" x2="71.80" y2="527.00" stroke="#050505" stroke-width="1.45"/>
<line x1="100.00" y1="526.20" x2="141.20" y2="526.20" stroke="#050505" stroke-width="1.45"/>
<text x="51.60" y="537.60" font-size="7.5" text-anchor="middle" fill="#050505" stroke="#050505" stroke-width="0.36">KARPAS-45</text>
<text x="120.00" y="537.00" font-size="7.7" text-anchor="middle" fill="#050505" stroke="#050505" stroke-width="0.36">RPMI-8402</text>
<line x1="180.00" y1="429.55" x2="180.00" y2="512.70" stroke="#050505" stroke-width="1.35"/>
<line x1="177.00" y1="512.10" x2="180.00" y2="512.10" stroke="#050505" stroke-width="1.2"/>
<text x="176.60" y="514.10" font-size="5.65" text-anchor="end" fill="#050505" stroke="#050505" stroke-width="0.36">0.0</text>
<line x1="177.00" y1="484.75" x2="180.00" y2="484.75" stroke="#050505" stroke-width="1.2"/>
<text x="176.60" y="486.75" font-size="5.65" text-anchor="end" fill="#050505" stroke="#050505" stroke-width="0.36">0.5</text>
<line x1="177.00" y1="457.40" x2="180.00" y2="457.40" stroke="#050505" stroke-width="1.2"/>
<text x="176.60" y="459.40" font-size="5.65" text-anchor="end" fill="#050505" stroke="#050505" stroke-width="0.36">1.0</text>
<line x1="177.00" y1="430.05" x2="180.00" y2="430.05" stroke="#050505" stroke-width="1.2"/>
<text x="176.60" y="432.05" font-size="5.65" text-anchor="end" fill="#050505" stroke="#050505" stroke-width="0.36">1.5</text>
<line x1="177.00" y1="512.10" x2="227.20" y2="512.10" stroke="#050505" stroke-width="1.4"/>
<rect x="183.56" y="457.96" width="4.38" height="54.14" fill="#fff" stroke="#050505" stroke-width="1.12"/>
<line x1="192.40" y1="469.98" x2="192.40" y2="469.32" stroke="#050505" stroke-width="1.15"/>
<line x1="191.10" y1="469.32" x2="193.70" y2="469.32" stroke="#050505" stroke-width="1.1"/>
<rect x="190.21" y="470.54" width="4.38" height="41.56" fill="#0a0a0a" stroke="#050505" stroke-width="1.12"/>
<line x1="199.05" y1="475.18" x2="199.05" y2="474.52" stroke="#050505" stroke-width="1.15"/>
<line x1="197.75" y1="474.52" x2="200.35" y2="474.52" stroke="#050505" stroke-width="1.1"/>
<rect x="196.86" y="475.74" width="4.38" height="36.36" fill="#5e5e5e" stroke="#050505" stroke-width="1.12"/>
<line x1="192.40" y1="512.50" x2="192.40" y2="514.90" stroke="#050505" stroke-width="1.3"/>
<text x="192.60" y="521.20" font-size="6.4" text-anchor="middle" fill="#050505" stroke="#050505" stroke-width="0.36">0</text>
<line x1="209.80" y1="470.69" x2="209.80" y2="470.25" stroke="#050505" stroke-width="1.15"/>
<line x1="208.50" y1="470.25" x2="211.10" y2="470.25" stroke="#050505" stroke-width="1.1"/>
<rect x="207.61" y="471.25" width="4.38" height="40.85" fill="#fff" stroke="#050505" stroke-width="1.12"/>
<rect x="214.26" y="483.78" width="4.38" height="28.32" fill="#0a0a0a" stroke="#050505" stroke-width="1.12"/>
<rect x="220.91" y="483.78" width="4.38" height="28.32" fill="#5e5e5e" stroke="#050505" stroke-width="1.12"/>
<line x1="216.45" y1="512.50" x2="216.45" y2="514.90" stroke="#050505" stroke-width="1.3"/>
<text x="216.65" y="521.20" font-size="6.4" text-anchor="middle" fill="#050505" stroke="#050505" stroke-width="0.36">0.01</text>
<line x1="241.40" y1="512.50" x2="241.40" y2="514.90" stroke="#050505" stroke-width="1.3"/>
<line x1="254.80" y1="512.10" x2="302.00" y2="512.10" stroke="#050505" stroke-width="1.4"/>
<line x1="180.00" y1="512.10" x2="302.00" y2="512.10" stroke="#050505" stroke-width="0.55"/>
<rect x="256.91" y="457.96" width="4.38" height="54.14" fill="#fff" stroke="#050505" stroke-width="1.12"/>
<rect x="263.56" y="476.28" width="4.38" height="35.82" fill="#0a0a0a" stroke="#050505" stroke-width="1.12"/>
<rect x="270.21" y="488.87" width="4.38" height="23.23" fill="#5e5e5e" stroke="#050505" stroke-width="1.12"/>
<line x1="265.75" y1="512.50" x2="265.75" y2="514.90" stroke="#050505" stroke-width="1.3"/>
<text x="265.95" y="521.20" font-size="6.4" text-anchor="middle" fill="#050505" stroke="#050505" stroke-width="0.36">0</text>
<line x1="283.75" y1="474.36" x2="283.75" y2="473.92" stroke="#050505" stroke-width="1.15"/>
<line x1="282.45" y1="473.92" x2="285.05" y2="473.92" stroke="#050505" stroke-width="1.1"/>
<rect x="281.56" y="474.92" width="4.38" height="37.18" fill="#fff" stroke="#050505" stroke-width="1.12"/>
<rect x="288.21" y="486.95" width="4.38" height="25.15" fill="#0a0a0a" stroke="#050505" stroke-width="1.12"/>
<rect x="294.86" y="501.39" width="4.38" height="10.71" fill="#5e5e5e" stroke="#050505" stroke-width="1.12"/>
<line x1="290.40" y1="512.50" x2="290.40" y2="514.90" stroke="#050505" stroke-width="1.3"/>
<text x="290.60" y="521.20" font-size="6.4" text-anchor="middle" fill="#050505" stroke="#050505" stroke-width="0.36">0.01</text>
<line x1="186.20" y1="527.90" x2="227.20" y2="527.90" stroke="#050505" stroke-width="1.45"/>
<line x1="256.00" y1="527.90" x2="298.20" y2="527.90" stroke="#050505" stroke-width="1.45"/>
<text x="206.00" y="539.20" font-size="7.5" text-anchor="middle" fill="#050505" stroke="#050505" stroke-width="0.36">KE-37</text>
<text x="277.20" y="539.20" font-size="8.0" text-anchor="middle" fill="#050505" stroke="#050505" stroke-width="0.36">MOLT-3</text>
<text x="317.10" y="520.20" font-size="6.8" text-anchor="middle" fill="#050505" stroke="#050505" stroke-width="0.36">MK-2206</text>
<text x="318.20" y="528.00" font-size="6.8" text-anchor="middle" fill="#050505" stroke="#050505" stroke-width="0.36">(µM)</text>
<rect x="287.20" y="429.70" width="9.60" height="4.90" fill="#fff" stroke="#050505" stroke-width="1.2"/>
<text x="301.00" y="434.55" font-size="6.7" text-anchor="start" fill="#050505" stroke="#050505" stroke-width="0.36">GFP</text>
<rect x="287.20" y="439.35" width="9.60" height="4.90" fill="#0a0a0a" stroke="#050505" stroke-width="1.2"/>
<text x="301.00" y="444.20" font-size="6.7" text-anchor="start" fill="#050505" stroke="#050505" stroke-width="0.36">GCK1</text>
<rect x="287.20" y="449.00" width="9.60" height="4.90" fill="#5e5e5e" stroke="#050505" stroke-width="1.2"/>
<text x="301.00" y="453.85" font-size="6.7" text-anchor="start" fill="#050505" stroke="#050505" stroke-width="0.36">GCK5</text>
<line x1="31.20" y1="544.90" x2="297.00" y2="544.90" stroke="#2a2a2a" stroke-width="2.0"/>
<text x="159.90" y="556.70" font-size="8.8" text-anchor="middle" fill="#050505" stroke="#050505" stroke-width="0.36">ALL</text>
<text x="350.90" y="186.40" font-size="7.55" text-anchor="middle" font-weight="bold" transform="rotate(-90 350.9 186.4)" fill="#050505" stroke="#050505" stroke-width="0.15">normalized growth</text>
<line x1="367.50" y1="145.10" x2="367.50" y2="227.20" stroke="#050505" stroke-width="1.35"/>
<line x1="364.50" y1="226.60" x2="367.50" y2="226.60" stroke="#050505" stroke-width="1.2"/>
<text x="364.10" y="228.60" font-size="5.65" text-anchor="end" fill="#050505" stroke="#050505" stroke-width="0.36">0.0</text>
<line x1="364.50" y1="199.60" x2="367.50" y2="199.60" stroke="#050505" stroke-width="1.2"/>
<text x="364.10" y="201.60" font-size="5.65" text-anchor="end" fill="#050505" stroke="#050505" stroke-width="0.36">0.5</text>
<line x1="364.50" y1="172.60" x2="367.50" y2="172.60" stroke="#050505" stroke-width="1.2"/>
<text x="364.10" y="174.60" font-size="5.65" text-anchor="end" fill="#050505" stroke="#050505" stroke-width="0.36">1.0</text>
<line x1="364.50" y1="145.60" x2="367.50" y2="145.60" stroke="#050505" stroke-width="1.2"/>
<text x="364.10" y="147.60" font-size="5.65" text-anchor="end" fill="#050505" stroke="#050505" stroke-width="0.36">1.5</text>
<line x1="364.50" y1="226.60" x2="489.40" y2="226.60" stroke="#050505" stroke-width="1.4"/>
<line x1="377.40" y1="170.98" x2="377.40" y2="169.36" stroke="#050505" stroke-width="1.15"/>
<line x1="376.10" y1="169.36" x2="378.70" y2="169.36" stroke="#050505" stroke-width="1.1"/>
<rect x="373.26" y="171.54" width="8.28" height="55.06" fill="#fff" stroke="#050505" stroke-width="1.12"/>
<line x1="377.40" y1="227.00" x2="377.40" y2="229.40" stroke="#050505" stroke-width="1.3"/>
<text x="377.60" y="236.80" font-size="6.9" text-anchor="middle" fill="#050505" stroke="#050505" stroke-width="0.36">0</text>
<line x1="388.60" y1="195.28" x2="388.60" y2="194.74" stroke="#050505" stroke-width="1.15"/>
<line x1="387.30" y1="194.74" x2="389.90" y2="194.74" stroke="#050505" stroke-width="1.1"/>
<rect x="384.46" y="195.84" width="8.28" height="30.76" fill="#fff" stroke="#050505" stroke-width="1.12"/>
<line x1="388.60" y1="227.00" x2="388.60" y2="229.40" stroke="#050505" stroke-width="1.3"/>
<text x="388.80" y="236.80" font-size="6.9" text-anchor="middle" fill="#050505" stroke="#050505" stroke-width="0.36">0.2</text>
<line x1="408.20" y1="196.52" x2="408.20" y2="195.87" stroke="#050505" stroke-width="1.15"/>
<line x1="406.90" y1="195.87" x2="409.50" y2="195.87" stroke="#050505" stroke-width="1.1"/>
<rect x="404.06" y="197.08" width="8.28" height="29.52" fill="#0a0a0a" stroke="#050505" stroke-width="1.12"/>
<line x1="408.20" y1="227.00" x2="408.20" y2="229.40" stroke="#050505" stroke-width="1.3"/>
<text x="408.40" y="236.80" font-size="6.9" text-anchor="middle" fill="#050505" stroke="#050505" stroke-width="0.36">0</text>
<line x1="419.40" y1="211.59" x2="419.40" y2="210.94" stroke="#050505" stroke-width="1.15"/>
<line x1="418.10" y1="210.94" x2="420.70" y2="210.94" stroke="#050505" stroke-width="1.1"/>
<rect x="415.26" y="212.15" width="8.28" height="14.45" fill="#0a0a0a" stroke="#050505" stroke-width="1.12"/>
<line x1="419.40" y1="227.00" x2="419.40" y2="229.40" stroke="#050505" stroke-width="1.3"/>
<text x="419.60" y="236.80" font-size="6.9" text-anchor="middle" fill="#050505" stroke="#050505" stroke-width="0.36">0.2</text>
<line x1="438.60" y1="172.60" x2="438.60" y2="171.95" stroke="#050505" stroke-width="1.15"/>
<line x1="437.30" y1="171.95" x2="439.90" y2="171.95" stroke="#050505" stroke-width="1.1"/>
<rect x="434.46" y="173.16" width="8.28" height="53.44" fill="#fff" stroke="#050505" stroke-width="1.12"/>
<line x1="438.60" y1="227.00" x2="438.60" y2="229.40" stroke="#050505" stroke-width="1.3"/>
<text x="438.80" y="236.80" font-size="6.9" text-anchor="middle" fill="#050505" stroke="#050505" stroke-width="0.36">0</text>
<line x1="449.80" y1="200.68" x2="449.80" y2="198.52" stroke="#050505" stroke-width="1.15"/>
<line x1="448.50" y1="198.52" x2="451.10" y2="198.52" stroke="#050505" stroke-width="1.1"/>
<rect x="445.66" y="201.24" width="8.28" height="25.36" fill="#fff" stroke="#050505" stroke-width="1.12"/>
<line x1="449.80" y1="227.00" x2="449.80" y2="229.40" stroke="#050505" stroke-width="1.3"/>
<text x="450.00" y="236.80" font-size="6.9" text-anchor="middle" fill="#050505" stroke="#050505" stroke-width="0.36">0.2</text>
<line x1="469.40" y1="183.40" x2="469.40" y2="182.59" stroke="#050505" stroke-width="1.15"/>
<line x1="468.10" y1="182.59" x2="470.70" y2="182.59" stroke="#050505" stroke-width="1.1"/>
<rect x="465.26" y="183.96" width="8.28" height="42.64" fill="#0a0a0a" stroke="#050505" stroke-width="1.12"/>
<line x1="469.40" y1="227.00" x2="469.40" y2="229.40" stroke="#050505" stroke-width="1.3"/>
<text x="469.60" y="236.80" font-size="6.9" text-anchor="middle" fill="#050505" stroke="#050505" stroke-width="0.36">0</text>
<line x1="480.80" y1="204.78" x2="480.80" y2="204.14" stroke="#050505" stroke-width="1.15"/>
<line x1="479.50" y1="204.14" x2="482.10" y2="204.14" stroke="#050505" stroke-width="1.1"/>
<rect x="476.66" y="205.34" width="8.28" height="21.26" fill="#0a0a0a" stroke="#050505" stroke-width="1.12"/>
<line x1="480.80" y1="227.00" x2="480.80" y2="229.40" stroke="#050505" stroke-width="1.3"/>
<text x="481.00" y="236.80" font-size="6.9" text-anchor="middle" fill="#050505" stroke="#050505" stroke-width="0.36">0.2</text>
<text x="505.20" y="233.80" font-size="6.8" text-anchor="middle" fill="#050505" stroke="#050505" stroke-width="0.36">MK-2206</text>
<text x="506.40" y="242.40" font-size="6.8" text-anchor="middle" fill="#050505" stroke="#050505" stroke-width="0.36">(µM)</text>
<text x="358.00" y="249.00" font-size="6.5" text-anchor="middle" fill="#050505" stroke="#050505" stroke-width="0.36">shRNA</text>
<text x="383.40" y="249.00" font-size="6.5" text-anchor="middle" fill="#050505" stroke="#050505" stroke-width="0.36">GFP</text>
<text x="415.40" y="249.00" font-size="6.5" text-anchor="middle" fill="#050505" stroke="#050505" stroke-width="0.36">GCK5</text>
<text x="445.00" y="249.00" font-size="6.5" text-anchor="middle" fill="#050505" stroke="#050505" stroke-width="0.36">GFP</text>
<text x="476.00" y="249.00" font-size="6.5" text-anchor="middle" fill="#050505" stroke="#050505" stroke-width="0.36">GCK5</text>
<line x1="373.60" y1="254.20" x2="424.00" y2="254.20" stroke="#050505" stroke-width="1.45"/>
<line x1="435.20" y1="254.20" x2="484.80" y2="254.20" stroke="#050505" stroke-width="1.45"/>
<text x="397.60" y="265.20" font-size="7.95" text-anchor="middle" fill="#050505" stroke="#050505" stroke-width="0.36">THP-1</text>
<text x="460.20" y="265.20" font-size="7.95" text-anchor="middle" fill="#050505" stroke="#050505" stroke-width="0.36">THP-1-GCK</text>
<path d="M406.4 153.8 V149.6 H469.8 V153.8" fill="none" stroke="#080808" stroke-width="1.05"/>
<path d="M417.6 163.9 V159.7 H481.6 V163.9" fill="none" stroke="#080808" stroke-width="1.05"/>
<text x="436.40" y="148.00" font-size="7.6" text-anchor="middle" fill="#050505" stroke="#050505" stroke-width="0.36">*</text>
<text x="449.00" y="158.40" font-size="7.6" text-anchor="middle" fill="#050505" stroke="#050505" stroke-width="0.36">*</text>
<rect x="368.6" y="40.6" width="85.8" height="19.4" fill="#6c6c6c"/>
<g clip-path="url(#cC1)">
<rect x="366" y="38" width="34" height="24" fill="#777777" filter="url(#b3)"/>
<rect x="429" y="42" width="22" height="12" fill="#474747" filter="url(#b3)"/>
<rect x="366" y="56.5" width="92" height="5" fill="#6a6a6a" filter="url(#b2)"/>
<ellipse cx="412.5" cy="43.2" rx="7.0" ry="1.5" fill="#2e2e2e" filter="url(#b2)"/>
<ellipse cx="405.5" cy="51.9" rx="4.6" ry="1.0" fill="#3c3c3c" filter="url(#b2)"/>
<ellipse cx="414" cy="51.9" rx="4.0" ry="0.8" fill="#5a5a5a" filter="url(#b2)"/>
<ellipse cx="440.0" cy="43.8" rx="10.8" ry="2.4" fill="#333333" filter="url(#b2)"/>
<rect x="428.6" y="48.4" width="22.2" height="5.8" rx="2.6" fill="#040404" filter="url(#b2)"/>
<ellipse cx="388" cy="42.6" rx="3" ry="0.9" fill="#606060" filter="url(#b2)"/>
</g>
<rect x="368.6" y="64.8" width="85.8" height="20.6" fill="#606060"/>
<g clip-path="url(#cC2)">
<rect x="364" y="70.0" width="96" height="10.4" fill="#2c2c2c" filter="url(#b3)"/>
<ellipse cx="385.4" cy="74.8" rx="11.2" ry="5.2" fill="#050505" filter="url(#b1)"/>
<ellipse cx="412.6" cy="74.8" rx="12.6" ry="5.6" fill="#050505" filter="url(#b1)"/>
<ellipse cx="441.4" cy="74.8" rx="12.8" ry="5.6" fill="#050505" filter="url(#b1)"/>
</g>
<text x="384.40" y="30.40" font-size="8" text-anchor="middle" font-weight="bold" fill="#050505" stroke="#050505" stroke-width="0.36">GCK1</text>
<text x="412.80" y="30.40" font-size="8" text-anchor="middle" font-weight="bold" fill="#050505" stroke="#050505" stroke-width="0.36">GCK5</text>
<text x="440.80" y="30.40" font-size="8" text-anchor="middle" font-weight="bold" fill="#050505" stroke="#050505" stroke-width="0.36">GFP</text>
<text x="471.20" y="29.80" font-size="6.8" text-anchor="middle" font-weight="bold" fill="#050505" stroke="#050505" stroke-width="0.36">shRNA</text>
<line x1="461.80" y1="45.00" x2="480.00" y2="45.00" stroke="#050505" stroke-width="1.6"/>
<path d="M458.80 45.00 L464.60 42.20 L464.60 47.80 Z" fill="#111"/>
<line x1="461.80" y1="53.20" x2="480.00" y2="53.20" stroke="#050505" stroke-width="1.6"/>
<path d="M458.80 53.20 L464.60 50.40 L464.60 56.00 Z" fill="#111"/>
<text x="484.60" y="46.90" font-size="9.0" text-anchor="start" fill="#050505" stroke="#050505" stroke-width="0.7">n.s.</text>
<text x="484.20" y="57.90" font-size="9.0" text-anchor="start" fill="#050505" stroke="#050505" stroke-width="0.7">GCK</text>
<text x="469.40" y="75.60" font-size="8.9" text-anchor="start" fill="#050505" stroke="#050505" stroke-width="0.6">β-tubulin</text>
<rect x="360.2" y="333.6" width="110" height="18.0" fill="#6a6a6a"/>
<g clip-path="url(#cE1)">
<rect x="414" y="331" width="60" height="7.5" fill="#4a4a4a" filter="url(#b3)"/>
<rect x="358" y="331" width="54" height="4" fill="#606060" filter="url(#b3)"/>
<ellipse cx="376.5" cy="337.2" rx="7.2" ry="1.2" fill="#303030" filter="url(#b2)"/>
<ellipse cx="380" cy="343.5" rx="5.0" ry="1.1" fill="#383838" filter="url(#b2)"/>
<ellipse cx="401.5" cy="338.3" rx="8.0" ry="1.1" fill="#484848" filter="url(#b2)"/>
<ellipse cx="402" cy="344.2" rx="9.0" ry="1.2" fill="#2c2c2c" filter="url(#b2)"/>
<ellipse cx="427.6" cy="334.6" rx="10" ry="2.2" fill="#2e2e2e" filter="url(#b2)"/>
<rect x="416.2" y="340.3" width="23.0" height="6.0" rx="2.6" fill="#080808" filter="url(#b2)"/>
<ellipse cx="455" cy="334.6" rx="10.5" ry="1.8" fill="#363636" filter="url(#b2)"/>
<rect x="443.0" y="339.5" width="23.6" height="6.0" rx="2.6" fill="#0b0b0b" filter="url(#b2)"/>
</g>
<rect x="360.2" y="356.0" width="110" height="17.2" fill="#5e5e5e"/>
<g clip-path="url(#cE2)">
<rect x="358" y="360.4" width="112" height="9.4" fill="#1c1c1c" filter="url(#b3)"/>
<ellipse cx="376.4" cy="364.8" rx="12.6" ry="4.2" fill="#050505" filter="url(#b1)"/>
<ellipse cx="404.0" cy="365.2" rx="12.0" ry="4.6" fill="#050505" filter="url(#b1)"/>
<ellipse cx="429.6" cy="364.8" rx="12.0" ry="4.8" fill="#050505" filter="url(#b1)"/>
<ellipse cx="454.6" cy="364.4" rx="11.6" ry="4.8" fill="#050505" filter="url(#b1)"/>
</g>
<text x="374.00" y="326.60" font-size="7.4" text-anchor="middle" font-weight="bold" fill="#050505" stroke="#050505" stroke-width="0.36">GCK5</text>
<text x="401.00" y="326.60" font-size="7.4" text-anchor="middle" font-weight="bold" fill="#050505" stroke="#050505" stroke-width="0.36">GFP</text>
<text x="426.60" y="326.60" font-size="7.4" text-anchor="middle" font-weight="bold" fill="#050505" stroke="#050505" stroke-width="0.36">GCK5</text>
<text x="454.20" y="326.60" font-size="7.4" text-anchor="middle" font-weight="bold" fill="#050505" stroke="#050505" stroke-width="0.36">GFP</text>
<text x="487.00" y="326.00" font-size="6.8" text-anchor="middle" font-weight="bold" fill="#050505" stroke="#050505" stroke-width="0.36">shRNA</text>
<line x1="478.80" y1="336.60" x2="495.80" y2="336.60" stroke="#050505" stroke-width="1.6"/>
<path d="M475.80 336.60 L481.60 333.80 L481.60 339.40 Z" fill="#111"/>
<line x1="478.80" y1="344.80" x2="495.80" y2="344.80" stroke="#050505" stroke-width="1.6"/>
<path d="M475.80 344.80 L481.60 342.00 L481.60 347.60 Z" fill="#111"/>
<text x="498.40" y="338.00" font-size="9.0" text-anchor="start" fill="#050505" stroke="#050505" stroke-width="0.7">n.s.</text>
<text x="498.40" y="350.20" font-size="9.0" text-anchor="start" fill="#050505" stroke="#050505" stroke-width="0.7">GCK</text>
<text x="484.60" y="367.60" font-size="8.9" text-anchor="start" fill="#050505" stroke="#050505" stroke-width="0.6">β-tubulin</text>
<line x1="365.40" y1="381.00" x2="413.80" y2="381.00" stroke="#050505" stroke-width="1.6"/>
<line x1="419.60" y1="381.00" x2="466.60" y2="381.00" stroke="#050505" stroke-width="1.6"/>
<text x="389.80" y="391.80" font-size="8.5" text-anchor="middle" font-weight="bold" fill="#050505" stroke="#050505" stroke-width="0.36">THP-1</text>
<text x="443.00" y="391.80" font-size="8.5" text-anchor="middle" font-weight="bold" fill="#050505" stroke="#050505" stroke-width="0.36">THP-1-GCK</text>
</g>
</svg>
</body></html>
